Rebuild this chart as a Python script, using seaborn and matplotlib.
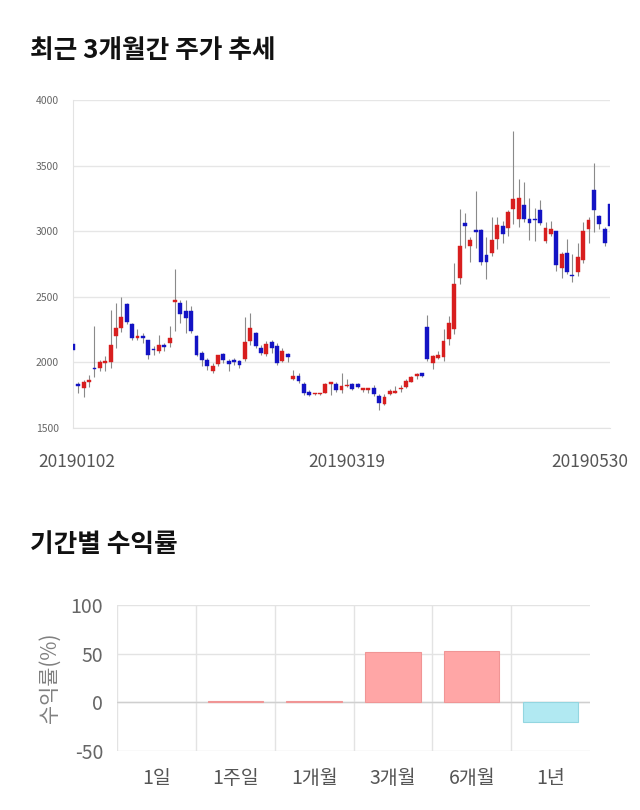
import numpy as np
import pandas as pd
import matplotlib
matplotlib.use("Agg")
import matplotlib.pyplot as plt
import matplotlib.transforms as mtransforms
import seaborn as sns

# ---------------- data ----------------
opens = [2143, 1834, 1808, 1849, 1957, 1957, 1995, 2000, 2205, 2263,
         2448, 2289, 2187, 2205, 2169, 2105, 2084, 2133, 2148, 2463,
         2455, 2391, 2391, 2205, 2072, 2020, 1931, 1990, 2064, 2013,
         2020, 2013, 2026, 2161, 2225, 2110, 2064, 2156, 2123, 2008,
         2064, 1875, 1898, 1836, 1777, 1757, 1757, 1770, 1836, 1836,
         1790, 1821, 1834, 1836, 1790, 1790, 1803, 1744, 1683, 1759,
         1770, 1795, 1816, 1854, 1898, 1918, 2271, 1995, 2033, 2041,
         2179, 2251, 2642, 3064, 2890, 3008, 3010, 2818, 2831, 2941,
         3038, 3023, 3171, 3095, 3202, 3095, 3092, 3164, 2929, 2975,
         2998, 2719, 2834, 2665, 2686, 2778, 3013, 3317, 3115, 3018,
         3210]
highs = [2161, 1854, 1867, 1905, 2281, 2020, 2046, 2399, 2455, 2501,
         2455, 2302, 2256, 2225, 2174, 2123, 2212, 2148, 2281, 2711,
         2476, 2476, 2430, 2212, 2084, 2033, 1995, 2059, 2072, 2026,
         2031, 2020, 2345, 2373, 2230, 2136, 2161, 2169, 2148, 2110,
         2072, 1944, 1923, 1847, 1790, 1770, 1770, 1841, 1854, 1854,
         1918, 1872, 1841, 1841, 1808, 1803, 1826, 1759, 1759, 1795,
         1818, 1826, 1872, 1898, 1923, 1923, 2358, 2059, 2087, 2251,
         2353, 2757, 3166, 3135, 2954, 3307, 3018, 2954, 3110, 3110,
         3074, 3159, 3765, 3397, 3376, 3256, 3180, 3236, 3069, 3074,
         3005, 2844, 2941, 2826, 2911, 3069, 3108, 3517, 3125, 3031,
         3223]
lows = [2084, 1765, 1734, 1816, 1887, 1931, 1931, 1957, 2110, 2230,
        2289, 2169, 2174, 2148, 2026, 2059, 2072, 2084, 2118, 2238,
        2302, 2225, 2225, 2046, 1974, 1944, 1923, 1974, 1995, 1931,
        1982, 1957, 2008, 2136, 2110, 2054, 2051, 2072, 1982, 2000,
        2000, 1867, 1841, 1752, 1744, 1749, 1752, 1765, 1752, 1777,
        1770, 1811, 1790, 1803, 1777, 1770, 1744, 1637, 1675, 1752,
        1765, 1777, 1808, 1849, 1872, 1887, 2008, 1949, 2026, 2008,
        2136, 2220, 2596, 2870, 2767, 2870, 2739, 2634, 2813, 2865,
        2911, 2967, 3056, 3031, 3069, 2934, 2926, 3044, 2911, 2967,
        2698, 2647, 2673, 2614, 2660, 2757, 2911, 2995, 3018, 2885,
        3005]
closes = [2097, 1821, 1854, 1867, 1949, 2000, 2008, 2136, 2263, 2345,
          2307, 2187, 2205, 2184, 2054, 2095, 2133, 2118, 2187, 2471,
          2371, 2340, 2238, 2059, 2020, 1969, 1974, 2054, 2015, 1990,
          2000, 1980, 2156, 2263, 2123, 2072, 2143, 2110, 1995, 2084,
          2041, 1898, 1862, 1770, 1752, 1765, 1765, 1836, 1849, 1790,
          1821, 1831, 1795, 1811, 1803, 1803, 1759, 1693, 1734, 1782,
          1777, 1808, 1859, 1885, 1910, 1898, 2026, 2051, 2054, 2161,
          2302, 2596, 2890, 3036, 2934, 2992, 2767, 2762, 2934, 3051,
          2977, 3146, 3248, 3253, 3090, 3062, 3087, 3062, 3023, 3018,
          2744, 2826, 2686, 2655, 2801, 3000, 3082, 3159, 3056, 2908,
          3036]
date_tick_index = [0, 51, 100]
date_tick_labels = ["20190102", "20190319", "20190530"]
price_ticks = [1500, 2000, 2500, 3000, 3500, 4000]

periods = ["1일", "1주일", "1개월", "3개월", "6개월", "1년"]
returns = [0.0, 1.0, 1.8, 51.8, 52.8, -19.9]
return_ticks = [-50, 0, 50, 100]

# ---------------- style ----------------
sns.set_style("white")
plt.rcParams["font.family"] = ["Noto Sans CJK KR", "DejaVu Sans"]
plt.rcParams["axes.unicode_minus"] = False

W, H = 640, 810
fig = plt.figure(figsize=(W / 100, H / 100), dpi=100)

def fx(px):
    return px / W

def fy(py):
    return 1 - py / H

# titles
fig.text(fx(30), fy(51), "최근 3개월간 주가 추세", fontsize=18.5, fontweight="bold",
         color="#111111", va="center", ha="left")
fig.text(fx(30), fy(544), "기간별 수익률", fontsize=18.5, fontweight="bold",
         color="#111111", va="center", ha="left")

# ---------------- candle chart ----------------
L, R, T, B = 73, 610, 100, 428
ax1 = fig.add_axes([fx(L), fy(B), fx(R - L), (B - T) / H])
df = pd.DataFrame({"open": opens, "high": highs, "low": lows, "close": closes})
df["idx"] = np.arange(len(df))
up = df["close"] > df["open"]
red, blue, wick = "#D81E1E", "#1313C4", "#8a8a8a"

ax1.vlines(df["idx"], df["low"], df["high"], color=wick, linewidth=0.8, zorder=2)
body_bottom = np.minimum(df["open"], df["close"])
body_h = np.maximum(np.abs(df["close"] - df["open"]), 9)
colors = np.where(up, red, blue)
ax1.bar(df["idx"], body_h, bottom=body_bottom, width=0.72, color=colors,
        edgecolor=colors, linewidth=0.3, zorder=3)

ax1.set_xlim(0, 100)
ax1.set_ylim(1500, 4000)
ax1.set_yticks(price_ticks)
ax1.set_yticklabels([str(v) for v in price_ticks])
ax1.grid(axis="y", color="#e6e6e6", linewidth=1)
ax1.grid(axis="x", visible=False)
for s in ["top", "right"]:
    ax1.spines[s].set_visible(False)
ax1.spines["left"].set_color("#e3e3e3")
ax1.spines["bottom"].set_color("#e3e3e3")
ax1.tick_params(axis="y", length=4, color="#e3e3e3", labelsize=7.5,
                labelcolor="#666666", pad=6)
ax1.set_xticks(date_tick_index)
ax1.set_xticklabels(date_tick_labels)
ax1.tick_params(axis="x", length=0, labelsize=12.5, labelcolor="#555555", pad=18)
labs = ax1.get_xticklabels()
labs[-1].set_transform(labs[-1].get_transform() +
                       mtransforms.ScaledTranslation(-0.20, 0, fig.dpi_scale_trans))
labs[0].set_transform(labs[0].get_transform() +
                      mtransforms.ScaledTranslation(0.04, 0, fig.dpi_scale_trans))

# ---------------- returns bar chart ----------------
L2, R2, T2, B2 = 117, 590, 605, 751
ax2 = fig.add_axes([fx(L2), fy(B2), fx(R2 - L2), (B2 - T2) / H])
rdf = pd.DataFrame({"period": periods, "ret": returns})
pal = {p: ("#FFA6A6" if r >= 0 else "#B1E9F2") for p, r in zip(periods, returns)}
sns.barplot(data=rdf, x="period", y="ret", hue="period", palette=pal,
            legend=False, width=0.7, saturation=1, ax=ax2, zorder=3)
for patch, r in zip(ax2.patches, returns):
    patch.set_edgecolor("#F09595" if r >= 0 else "#93D6E0")
    patch.set_linewidth(0.8 if r != 0 else 0)

ax2.set_xlim(-0.5, 5.5)
ax2.set_ylim(-50, 100)
ax2.set_yticks(return_ticks)
ax2.set_yticklabels([str(v) for v in return_ticks])
ax2.set_xticks(np.arange(-0.5, 5.0, 1.0), minor=True)
ax2.grid(axis="y", color="#e3e3e3", linewidth=1, zorder=0)
ax2.grid(axis="x", which="minor", color="#e3e3e3", linewidth=1, zorder=0)
ax2.grid(axis="x", which="major", visible=False)
ax2.axhline(0, color="#cfcfcf", linewidth=1, zorder=2)
for s in ["top", "right", "left", "bottom"]:
    ax2.spines[s].set_visible(False)
ax2.tick_params(axis="y", length=6, color="#e3e3e3", labelsize=14,
                labelcolor="#666666", pad=4)
ax2.tick_params(axis="x", which="major", length=0, labelsize=14,
                labelcolor="#555555", pad=12)
ax2.tick_params(axis="x", which="minor", length=10, color="#e3e3e3")
ax2.set_xlabel("")
ax2.set_ylabel("수익률(%)", fontsize=15, color="#808080", labelpad=7)

fig.savefig("out.png", dpi=100)
